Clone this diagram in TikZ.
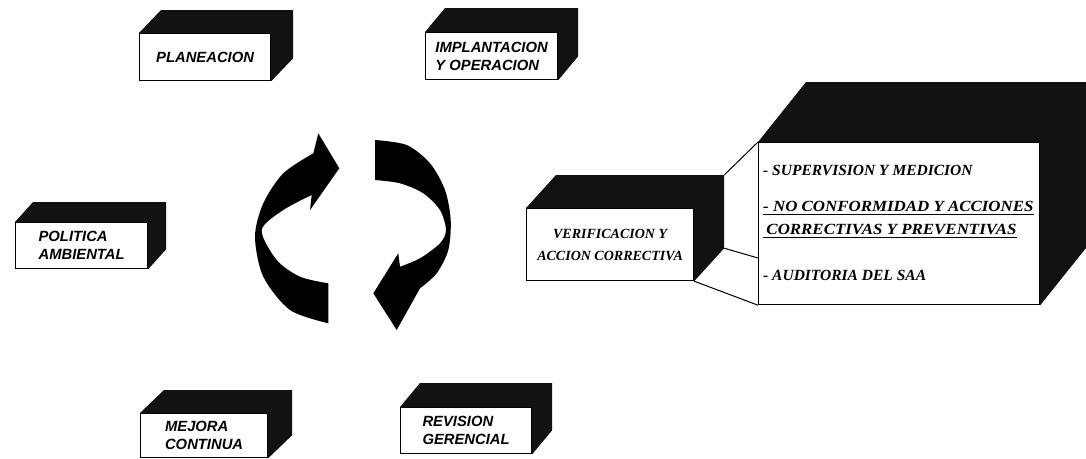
\documentclass[tikz,border=0pt]{standalone}
\usepackage{fontspec}
\setmainfont{Liberation Serif}
\setsansfont{Liberation Sans}
\usetikzlibrary{calc}
\tikzset{
  front/.style={draw=black, line width=1.2pt, fill=white, anchor=north west, inner sep=0pt,
    font=\sffamily\bfseries\itshape\fontsize{14.8}{18}\selectfont, align=left},
  dark/.style={fill=black!93},
  cyclearrow/.style={fill=black},
  item/.style={anchor=base west, inner sep=0pt, font=\rmfamily\bfseries\itshape\fontsize{15.5}{18}\selectfont},
  link/.style={line width=1pt},
  uline/.style={line width=1pt}
}
\newcommand\depthfaces[3]{\fill[dark] (#1.north west) -- ++(#2,-#3) -- ($(#1.north east)+(#2,-#3)$) -- ($(#1.south east)+(#2,-#3)$) -- (#1.south east) -- (#1.north east) -- cycle;}
\begin{document}
\begin{tikzpicture}[x=1pt,y=-1pt]
\useasboundingbox[fill=white] (0,0) rectangle (1086,458);

% small boxes
\node[front, minimum width=131pt, minimum height=47pt] (plan) at (139,33) {PLANEACION};
\depthfaces{plan}{22}{23}
\node[front, minimum width=132pt, minimum height=47pt] (impl) at (425,32) {IMPLANTACION\\Y OPERACION};
\depthfaces{impl}{20}{24}
\node[front, minimum width=132pt, minimum height=46pt] (pol) at (15,222) {POLITICA\\AMBIENTAL};
\depthfaces{pol}{18}{20}
\node[front, minimum width=127pt, minimum height=44pt] (mej) at (140,413) {MEJORA\\CONTINUA};
\depthfaces{mej}{24}{23}
\node[front, minimum width=131pt, minimum height=46pt] (rev) at (400,407) {REVISION\\GERENCIAL};
\depthfaces{rev}{20}{24}

% verification box
\node[front, minimum width=167pt, minimum height=72pt, align=center,
  font=\rmfamily\bfseries\itshape\fontsize{14}{22}\selectfont] (ver) at (526,208) {VERIFICACION Y\\ACCION CORRECTIVA};
\depthfaces{ver}{30}{33}
\coordinate (vtr) at ($(ver.north east)+(30,-33)$);
\coordinate (vbr) at ($(ver.south east)+(30,-33)$);

% big box
\node[front, minimum width=281pt, minimum height=162pt] (big) at (758,142) {};
\depthfaces{big}{48}{60}
\coordinate (bmid) at ($(big.north west)+(0,116)$);

\draw[link] (vtr) -- (big.north west);
\draw[link] (vbr) -- (bmid);
\draw[link] (ver.south east) -- (big.south west);

\node[item] (i1) at (763,175) {- SUPERVISION Y MEDICION};
\node[item] (i2) at (763,211) {\scalebox{1.09}[1]{- NO CONFORMIDAD Y ACCIONES}};
\node[item] (i3) at (763,234) {\scalebox{1.09}[1]{\hspace{3pt}CORRECTIVAS Y PREVENTIVAS}};
\node[item] (i4) at (763,280) {- AUDITORIA DEL SAA};
\draw[uline] ([yshift=-3pt]i2.base west) -- ([yshift=-3pt]i2.base east);
\draw[uline] ([yshift=-3pt]i3.base west) -- ([yshift=-3pt]i3.base east);

% cycle arrows
\fill[cyclearrow] (328.3,323.3) -- plot[smooth] coordinates {(328.3,323.3) (290,310) (263.3,276.7) (255,236.7) (263.3,203.3) (283.3,173.3) (313.3,153.3)}
  -- (318.3,133.3) -- (339.3,168.3) -- (310,210)
  -- plot[smooth] coordinates {(311.7,195) (283.3,210) (261.7,230) (276.7,260) (300,276.7) (328.3,283.3)} -- cycle;
\fill[cyclearrow] (375,140) -- plot[smooth] coordinates {(375,140) (406.7,145) (430,163.3) (445,190) (450.7,220) (448.3,250) (436.7,273.3) (420,288.3)}
  -- (396.7,330) -- (373.3,293.3) -- (398.3,253.3)
  -- plot[smooth] coordinates {(400,266.7) (420,258.3) (440,243.3) (446,230) (440,210) (423.3,193.3) (400,183.3) (375,180)} -- cycle;
\end{tikzpicture}
\end{document}
